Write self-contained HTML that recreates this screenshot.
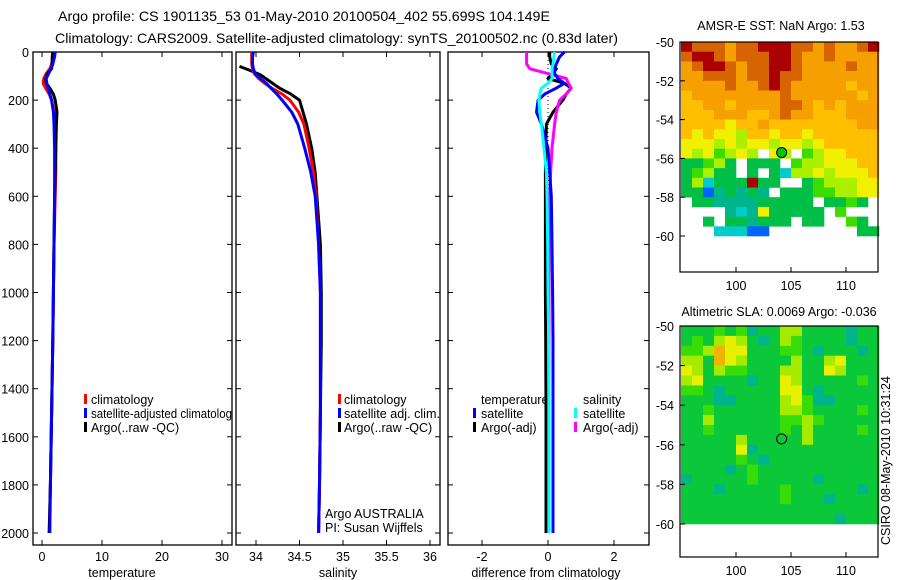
<!DOCTYPE html>
<html><head><meta charset="utf-8"><style>
body{margin:0;background:#fff;}
svg{display:block;font-family:"Liberation Sans",sans-serif;}
text{fill:#000;}
</style></head><body>
<svg id="fig" width="900" height="580" viewBox="0 0 900 580">
<rect x="0" y="0" width="900" height="580" fill="#fff"/>
<text x="58" y="21" font-size="14" textLength="492" lengthAdjust="spacingAndGlyphs">Argo profile: CS 1901135_53 01-May-2010 20100504_402 55.699S 104.149E</text>
<text x="55" y="43" font-size="14" textLength="563" lengthAdjust="spacingAndGlyphs">Climatology: CARS2009. Satellite-adjusted climatology: synTS_20100502.nc (0.83d later)</text>
<text x="781" y="30" font-size="12.5" text-anchor="middle">AMSR-E SST: NaN Argo: 1.53</text>
<text x="779" y="316" font-size="12.5" text-anchor="middle">Altimetric SLA: 0.0069 Argo: -0.036</text>
<text transform="translate(890,545) rotate(-90)" font-size="12.5">CSIRO 08-May-2010 10:31:24</text>
<text x="122" y="577" font-size="12.5" text-anchor="middle">temperature</text>
<text x="338" y="577" font-size="12.5" text-anchor="middle">salinity</text>
<text x="546" y="577" font-size="12.5" text-anchor="middle">difference from climatology</text>
<g font-size="12.5">
<rect x="84" y="394" width="3" height="10" fill="#f00"/>
<text x="91" y="404">climatology</text>
<rect x="84" y="408" width="3" height="10" fill="#00f"/>
<text x="91" y="418" textLength="141" lengthAdjust="spacingAndGlyphs">satellite-adjusted climatolog</text>
<rect x="84" y="422" width="3" height="10" fill="#000"/>
<text x="91" y="432">Argo(..raw -QC)</text>
</g>
<g font-size="12.5">
<rect x="338" y="394" width="3" height="10" fill="#f00"/>
<text x="344" y="404">climatology</text>
<rect x="338" y="408" width="3" height="10" fill="#00f"/>
<text x="344" y="418" textLength="96" lengthAdjust="spacingAndGlyphs">satellite adj. clim.</text>
<rect x="338" y="422" width="3" height="10" fill="#000"/>
<text x="344" y="432">Argo(..raw -QC)</text>
<text x="325" y="518">Argo AUSTRALIA</text>
<text x="325" y="532">PI: Susan Wijffels</text>
</g>
<g font-size="12.5">
<text x="481" y="404">temperature</text>
<rect x="473" y="408" width="3" height="10" fill="#00f"/>
<text x="481" y="418">satellite</text>
<rect x="473" y="422" width="3" height="10" fill="#000"/>
<text x="481" y="432">Argo(-adj)</text>
<text x="583" y="404">salinity</text>
<rect x="574" y="408" width="3" height="10" fill="#0ff"/>
<text x="583" y="418">satellite</text>
<rect x="574" y="422" width="3" height="10" fill="#f0f"/>
<text x="583" y="432">Argo(-adj)</text>
</g>
</svg>
<script>
// ---- profile data ----
const depths = [0,20,50,70,90,110,130,150,175,200,250,300,400,500,600,800,1000,1200,1500,1800,2000];
const tempClim = [1.8,1.8,1.6,1.3,0.7,0.3,0.2,0.6,1.2,1.6,2.0,2.2,2.3,2.3,2.2,2.0,1.9,1.8,1.6,1.4,1.2];
const tempSat = [2.2,2.1,1.8,1.5,1.1,0.7,0.8,1.0,1.3,1.6,1.9,2.0,2.1,2.1,2.1,2.0,1.9,1.8,1.6,1.4,1.3];
const tempArgo = [1.8,1.7,1.7,1.6,0.9,0.6,0.7,1.3,1.9,2.2,2.5,2.4,2.3,2.2,2.1,2.0,1.9,1.8,1.6,1.4,1.2];
const salClim = [33.95,33.95,33.95,33.96,33.98,34.03,34.10,34.18,34.30,34.39,34.49,34.55,34.61,34.66,34.69,34.72,34.74,34.74,34.74,34.73,34.72];
const salSat = [33.97,33.96,33.96,33.97,33.99,34.05,34.12,34.17,34.24,34.30,34.41,34.48,34.56,34.63,34.68,34.72,34.74,34.74,34.74,34.73,34.72];
const argoSalDepths = [60,75,95,120,150,175,200,250,300,400,500,600,800,1000,1200,1500,1800,2000];
const salArgo = [33.81,33.92,34.05,34.15,34.27,34.40,34.50,34.54,34.58,34.64,34.68,34.70,34.74,34.75,34.75,34.74,34.73,34.72];
const diffTempSat = [0.5,0.35,0.25,0.2,0.2,0.3,0.5,0.25,-0.1,-0.3,-0.35,-0.2,0.0,0.05,0.1,0.12,0.14,0.15,0.15,0.15,0.15];
const diffTempArgo = [0.05,0.05,0.1,0.25,0.15,0.0,0.5,0.7,0.55,0.45,0.15,-0.05,-0.07,-0.08,-0.08,-0.08,-0.08,-0.07,-0.06,-0.06,-0.06];
const diffSalArgo = [-0.65,-0.65,-0.65,-0.55,0.0,0.55,0.62,0.7,0.55,0.35,0.25,0.2,0.12,0.08,0.05,0.04,0.03,0.03,0.02,0.02,0.02];
const diffSalSat = [0.2,0.18,0.15,0.12,0.12,0.12,0.0,-0.2,-0.25,-0.28,-0.25,-0.2,-0.12,-0.05,-0.03,-0.01,0.0,0.02,0.03,0.03,0.03];
const depthTicks = [0,200,400,600,800,1000,1200,1400,1600,1800,2000];
const tempTicks = [0,10,20,30];
const salTicks = [34,34.5,35,35.5,36];
const diffTicks = [-2,0,2];
// ---- map data (rows lat -50..-60 step 0.5, cols lon 95..112) ----
const mapLons = [95,96,97,98,99,100,101,102,103,104,105,106,107,108,109,110,111,112];
const mapLats = [-50,-50.5,-51,-51.5,-52,-52.5,-53,-53.5,-54,-54.5,-55,-55.5,-56,-56.5,-57,-57.5,-58,-58.5,-59,-59.5];
const sstRows = [
"baaa9aabbbaa9a99ab","abba9aaabba99a9999","9abba9aabba9999a99","99aaa9aabaa9999999",
"9999a99aba99999899","899999999a99999989","889989999aa9898999","888999889a99888999",
"888878898888888899","878776887887888888","777676776776788888","767567607605677888",
"445640444056677788","456440404266767778","462444b44004566677","441343430444556677",
"044333344444044540","000032374444405000","004044344404400540","000222110000000044"];
const slaRows = [
"444545344664444344","454676434654444344","556877444554344434","664876444464467444",
"764655444664476444","674444344764444454","554344444774344444","444334444675334444",
"445444444665444454","446444444556544444","445444444546444454","444446444446444444",
"444447344444444444","444445434444444444","444434544444444444","344444544444344444",
"444344444544444434","444444444544434444","444444444444444444","444444444444443444"];
const sstColors = {"0":null,"1":"#0064ff","2":"#00cccc","3":"#00b48c","4":"#00be46","5":"#3cdc00","6":"#aaf000","7":"#f0f000","8":"#ffbe00","9":"#f5a000","a":"#d66400","b":"#aa0000"};
const slaColors = {"3":"#00b48c","4":"#0ac83a","5":"#38dc08","6":"#a5eb00","7":"#e6f000","8":"#f0b400"};
const argoLon = 104.149, argoLat = -55.699;

const NS = "http://www.w3.org/2000/svg";
const svg = document.getElementById('fig');
function mk(tag, attrs, parent){const e=document.createElementNS(NS,tag);for(const k in attrs)e.setAttribute(k,attrs[k]);(parent||svg).appendChild(e);return e;}

const Y0=52, Y1=545;
function yDepth(d){return 52 + d*0.2405;}
const panels = [
 {name:'temperature',x0:33,x1:232,vmin:-1.5,vmax:31.67,ticks:tempTicks},
 {name:'salinity',x0:236,x1:440,vmin:33.77,vmax:36.115,ticks:salTicks},
 {name:'difference',x0:448,x1:649,vmin:-3.03,vmax:3.06,ticks:diffTicks}
];
function xs(p,v){return p.x0 + (v-p.vmin)/(p.vmax-p.vmin)*(p.x1-p.x0);}

panels.forEach((p,i)=>{
  const g = mk('g',{});
  
  
  const box = mk('rect',{x:p.x0,y:Y0,width:p.x1-p.x0,height:Y1-Y0,fill:'none',stroke:'#000','stroke-width':1.3},g);
  
  
  depthTicks.forEach(d=>{
    const y=yDepth(d);
    const t1=mk('line',{x1:p.x0,x2:p.x0+5,y1:y,y2:y,stroke:'#000'},g);
    
    
    const t2=mk('line',{x1:p.x1-5,x2:p.x1,y1:y,y2:y,stroke:'#000'},g);
    
    
    if(i===0){
      const tl=mk('text',{x:p.x0-4,y:y+5,'font-size':12.5,'text-anchor':'end'},g);
      tl.textContent=d;
      
      
    }
  });
  p.ticks.forEach(v=>{
    const x=xs(p,v);
    const t=mk('line',{x1:x,x2:x,y1:Y1,y2:Y1-5,stroke:'#000'},g);
    
    
    const t2=mk('line',{x1:x,x2:x,y1:Y0,y2:Y0+5,stroke:'#000'},g);
    
    
    const tl=mk('text',{x:x,y:561,'font-size':12.5,'text-anchor':'middle'},g);
    tl.textContent=v;
    
    
  });
});

function line(p, ds, vals, color, name, w){
  const pts = ds.map((d,k)=>xs(p,vals[k]).toFixed(1)+','+yDepth(d).toFixed(1)).join(' ');
  const pl = mk('polyline',{points:pts,fill:'none',stroke:color,'stroke-width':w||3,'stroke-linejoin':'round'});
  
  
}
const P=panels;
line(P[0],depths,tempClim,'#f00','temperature-climatology-line');
line(P[0],depths,tempArgo,'#000','temperature-argo-line');
line(P[0],depths,tempSat,'#00f','temperature-satellite-line');
line(P[1],argoSalDepths,salArgo,'#000','salinity-argo-line');
line(P[1],depths,salClim,'#f00','salinity-climatology-line');
line(P[1],depths,salSat,'#00f','salinity-satellite-line');
const zl = mk('line',{x1:xs(P[2],0),x2:xs(P[2],0),y1:Y0,y2:yDepth(2000),stroke:'#000','stroke-dasharray':'1,3'});


line(P[2],depths,diffTempArgo,'#000','diff-temp-argo-line');
line(P[2],depths,diffSalArgo,'#f0f','diff-sal-argo-line');
line(P[2],depths,diffTempSat,'#00f','diff-temp-satellite-line');
line(P[2],depths,diffSalSat,'#0ff','diff-sal-satellite-line');

// ---- maps ----
function drawMap(cfg){
  const g = mk('g',{});
  
  
  const lx = lon => 736 + (lon-100)*11;
  const ly = lat => cfg.yTop50 + (-50-lat)*cfg.dy;
  cfg.rows.forEach((row,r)=>{
    const s=row.replace(/ /g,'');
    mapLons.forEach((lon,c)=>{
      const col = cfg.colors[s[c]];
      if(!col) return;
      const x=lx(lon), y=ly(mapLats[r]);
      const cell = mk('rect',{x:x.toFixed(1),y:y.toFixed(1),width:11.3,height:(cfg.dy*0.5+0.3).toFixed(1),fill:col},g);
      
      
    });
  });
  const box = mk('rect',{x:680,y:cfg.top,width:198,height:cfg.bottom-cfg.top,fill:'none',stroke:'#000','stroke-width':1.2},g);
  
  
  [-50,-52,-54,-56,-58,-60].forEach(lat=>{
    const y=ly(lat);
    const t=mk('line',{x1:680,x2:685,y1:y,y2:y,stroke:'#000'},g);
    
    
    const tl=mk('text',{x:674,y:y+5,'font-size':12.5,'text-anchor':'end'},g);
    tl.textContent=lat;
    
    
  });
  [100,105,110].forEach(lon=>{
    const x=lx(lon);
    const t=mk('line',{x1:x,x2:x,y1:cfg.bottom,y2:cfg.bottom-5,stroke:'#000'},g);
    
    
    const tl=mk('text',{x:x,y:cfg.bottom+18,'font-size':12.5,'text-anchor':'middle'},g);
    tl.textContent=lon;
    
    
  });
  const m = mk('circle',{cx:lx(argoLon),cy:ly(argoLat),r:5,fill:cfg.markerFill,stroke:'#000','stroke-width':1},g);
  
  
}
drawMap({name:'sst-map',rows:sstRows,colors:sstColors,top:42,bottom:272,yTop50:42,dy:19.4,markerFill:'#00c800'});
drawMap({name:'sla-map',rows:slaRows,colors:slaColors,top:326,bottom:557,yTop50:326,dy:19.8,markerFill:'none'});
</script>
</body></html>
